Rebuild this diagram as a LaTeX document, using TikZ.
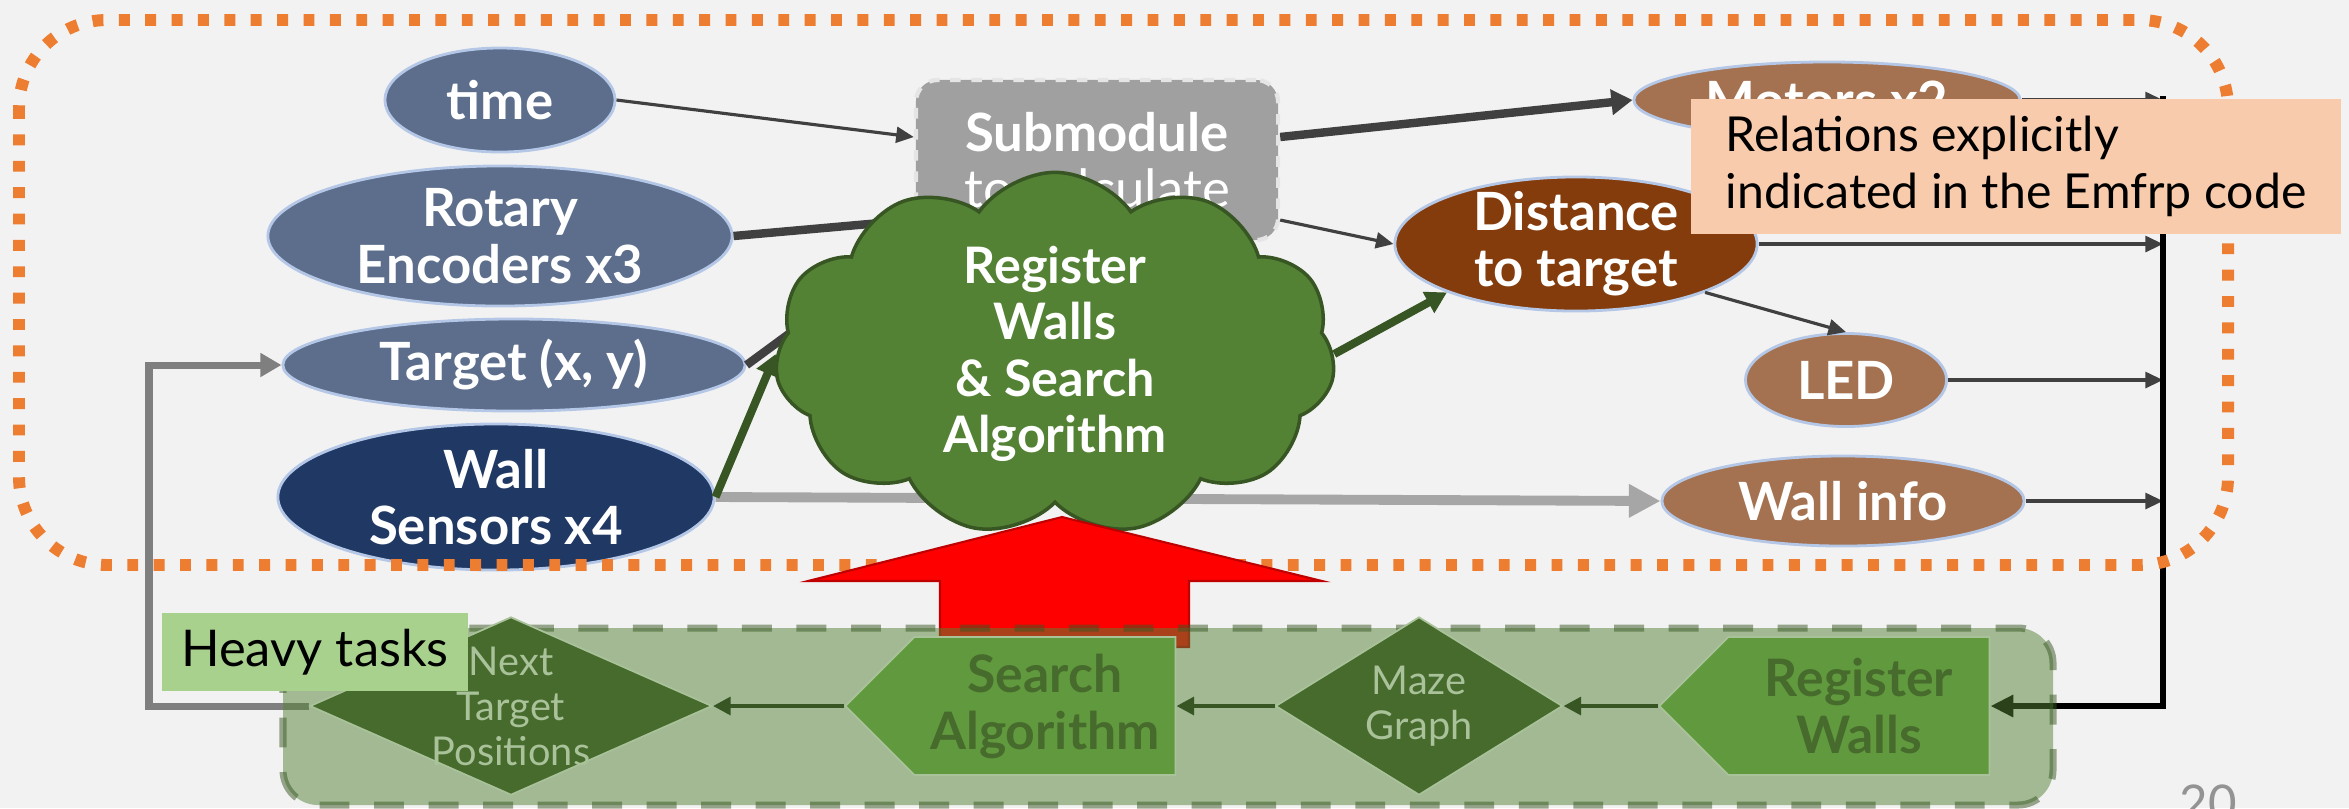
\documentclass[tikz,border=0pt]{standalone}
\usepackage{fontspec}
\setmainfont{Lato}
\usetikzlibrary{arrows.meta,shapes.geometric,shapes.symbols}

\definecolor{paper}{HTML}{F2F2F2}
\definecolor{inblue}{HTML}{5D6E8C}
\definecolor{navy}{HTML}{203864}
\definecolor{rim}{HTML}{B4C7E7}
\definecolor{rust}{HTML}{843C0C}
\definecolor{clay}{HTML}{A47251}
\definecolor{subgray}{HTML}{A0A0A0}
\definecolor{leaf}{HTML}{548235}
\definecolor{leafdark}{HTML}{375623}
\definecolor{moss}{HTML}{466B2C}
\definecolor{grass}{HTML}{619A3E}
\definecolor{sage}{HTML}{A9C29A}
\definecolor{tangerine}{HTML}{ED7D31}
\definecolor{peach}{HTML}{F8CBAD}
\definecolor{lime}{HTML}{A9D18E}
\definecolor{wire}{HTML}{404040}
\definecolor{pale}{HTML}{A6A6A6}
\definecolor{loopgray}{HTML}{7F7F7F}

\pgfdeclarelayer{back}
\pgfdeclarelayer{tray}
\pgfdeclarelayer{front}
\pgfsetlayers{back,main,tray,front}

\begin{document}
\begin{tikzpicture}[x=0.01cm, y=-0.01cm,
    every node/.style={inner sep=0pt, text=white, align=center, font=\fontsize{15}{16}\selectfont\bfseries},
    src/.style={ellipse, fill=inblue, draw=rim, line width=0.8pt, inner ysep=-2pt},
    sink/.style={ellipse, fill=clay, draw=rim, line width=0.8pt, inner ysep=-2pt},
    task/.style={signal, signal to=west, signal from=nowhere, signal pointer angle=90, fill=grass, draw=sage, line width=0.5pt,
                 text=moss, font=\fontsize{14.7}{16.2}\selectfont\bfseries, minimum height=1.38cm, minimum width=3.3cm},
    data/.style={diamond, aspect=2, inner ysep=-6pt, fill=moss, draw=sage, line width=0.5pt, text=sage,
                 font=\fontsize{11.3}{12.8}\selectfont},
    link/.style={draw=wire, line width=0.9pt, -{Triangle[length=5pt,width=4.5pt]}},
    fat/.style={draw=wire, line width=2.4pt, -{Triangle[length=6pt,width=7pt]}},
    sprout/.style={draw=leafdark, line width=2.3pt, -{Triangle[length=6pt,width=6.5pt]}},
    flow/.style={draw=leafdark, line width=1.2pt, -{Triangle[length=5pt,width=5pt]}}]

    \begin{pgfonlayer}{back}
        \fill[paper] (0,0) rectangle (2349,808);
    \end{pgfonlayer}
    \useasboundingbox (0,0) rectangle (2349,808);

    \node[src, minimum width=2.3cm, minimum height=1.04cm]              (time)     at (500,100)  {time};
    \node[src, minimum width=4.64cm, minimum height=1.4cm]              (rot)      at (500,236)  {Rotary\\Encoders x3};
    \node[src, minimum width=4.62cm, minimum height=0.92cm]             (target)   at (514,365)  {Target (x, y)};
    \node[src, fill=navy, minimum width=4.36cm, minimum height=1.46cm]  (wallsens) at (496,497)  {Wall\\Sensors x4};

    \node[rectangle, rounded corners=0.22cm, fill=subgray, draw=gray!20, dashed, line width=1.2pt,
          minimum width=3.62cm, minimum height=1.6cm]                   (sub)      at (1097,160) {Submodule\\\mdseries to calculate};

    \node[sink, minimum width=3.86cm, minimum height=0.76cm]            (motors)   at (1827,100) {Motors x2};
    \node[sink, fill=rust, minimum width=3.62cm, minimum height=1.34cm] (dist)     at (1576,244) {Distance\\to target};
    \node[sink, minimum width=2.01cm, minimum height=0.93cm]            (led)      at (1846,380) {LED};
    \node[sink, minimum width=3.62cm, minimum height=0.9cm]             (wallinfo) at (1843,501) {Wall info};

    \coordinate (bus) at (2163,96);

    \draw
        (time.east)                 edge [link]  ([yshift=0.23cm]sub.west)
        (rot.east)                  edge [fat]   ([yshift=-0.6cm]sub.west)
        (target.east)               edge [fat]   (sub.south west)
        (wallsens.east)             edge [fat, draw=pale, line width=2.8pt, -{Triangle[length=9pt,width=9pt]}] (wallinfo.west)
        ([yshift=0.23cm]sub.east)   edge [fat]   (motors.west)
        ([yshift=-0.6cm]sub.east)   edge [link]  (dist.west)
        (dist.south east)           edge [link]  (led.north)
        (motors.east)               edge [link]  (motors.east -| bus)
        (dist.east)                 edge [link]  (dist.east -| bus)
        (led.east)                  edge [link]  (led.east -| bus)
        (wallinfo.east)             edge [link]  (wallinfo.east -| bus)
        ;

    \node[cloud, cloud puffs=11, cloud puff arc=110, aspect=1.6, fill=leaf, draw=leafdark, line width=1pt,
          font=\fontsize{14.3}{16}\selectfont\bfseries,
          minimum width=5.6cm, minimum height=3.5cm]                    (brain)    at (1055,354) {Register\\Walls\\\& Search\\Algorithm};

    \draw
        (wallsens.east)   edge [sprout] (brain.west)
        (brain.east)      edge [sprout] (dist.south west)
        ;

    \begin{pgfonlayer}{front}
        \node[data, minimum width=4.02cm, minimum height=1.78cm]  (nexttgt) at (511,706)  {Next\\Target\\Positions};
        \node[task]                                               (search)  at (1045,706) {Search\\Algorithm};
        \node[data, minimum width=2.87cm, minimum height=1.78cm]  (maze)    at (1419,706) {Maze\\Graph};
        \node[task]                                               (regw)    at (1859,706) {Register\\Walls};

        \draw
            (regw.west)    edge [flow] (maze.east)
            (maze.west)    edge [flow] (search.east)
            (search.west)  edge [flow] (nexttgt.east)
            ;

        \node[fill=lime, text=black, font=\fontsize{14.4}{16}\selectfont\mdseries,
              minimum width=3.06cm, minimum height=0.78cm]      (heavy)   at (315,652)  {Heavy tasks};
        \node[text=gray!85, font=\fontsize{14}{16}\selectfont\mdseries] (page) at (2208,803) {20};
    \end{pgfonlayer}

    \draw[line width=1.7pt, -{Triangle[length=6.5pt,width=6pt]}] (bus) -- (bus |- regw.east) -- (regw.east);
    \draw[loopgray, line width=2pt, -{Triangle[length=6pt,width=6.5pt]}] (nexttgt.west) -- ++(-160,0) |- (target.west);

    \draw[tangerine, line width=3.4pt, dash pattern=on 3.1pt off 4.4pt, rounded corners=0.88cm] (19,20) rectangle (2228,565);

    \filldraw[fill=red, draw=red!75!black, line width=0.6pt]
        (1062,517) -- (1322,581) -- (1189,581) -- (1189,647) -- (940,647) -- (940,581) -- (808,581) -- cycle;

    \node[fill=peach, text=black, font=\fontsize{13.7}{16.2}\selectfont\mdseries, align=left,
          minimum width=6.5cm, minimum height=1.35cm, anchor=north west] (note) at (1690,98)
          {Relations explicitly\\indicated in the Emfrp code};

    \begin{pgfonlayer}{tray}
        \filldraw[fill=leaf, fill opacity=0.5, draw=leafdark, draw opacity=0.5, line width=2pt,
                  dash pattern=on 8.5pt off 7pt, rounded corners=0.35cm] (283,628) rectangle (2053,805);
    \end{pgfonlayer}
\end{tikzpicture}
\end{document}
